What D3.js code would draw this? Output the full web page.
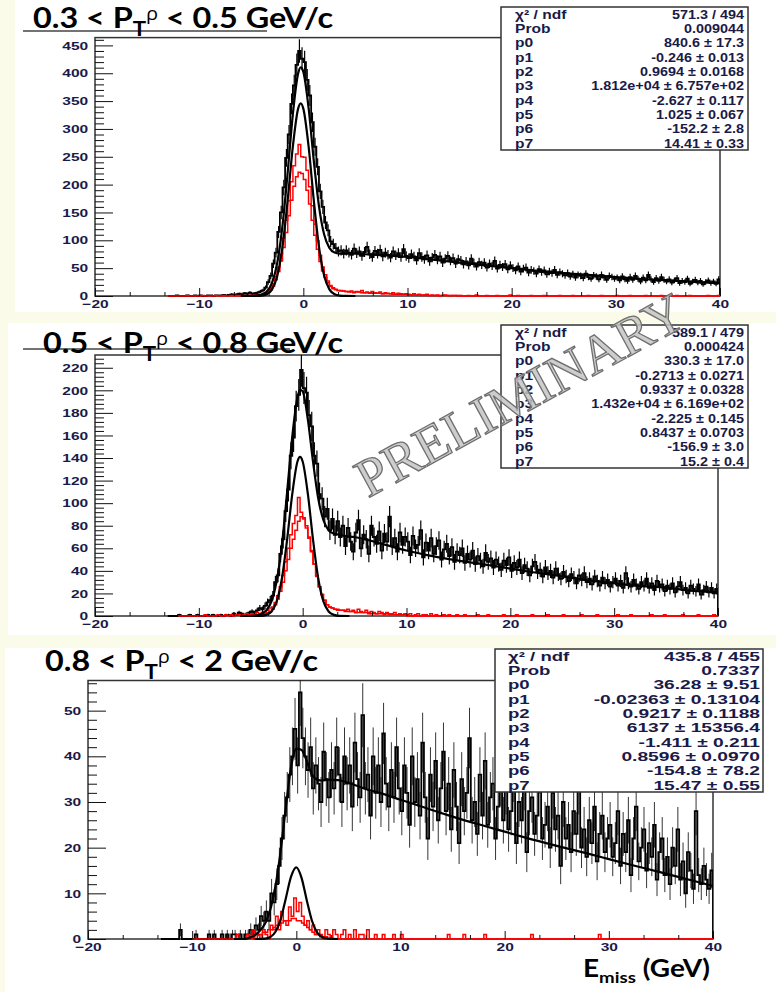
<!DOCTYPE html>
<html><head><meta charset="utf-8">
<script src="https://cdn.jsdelivr.net/npm/d3@7/dist/d3.min.js"></script>
<style>body{margin:0;background:#fbfbea;} svg{display:block}</style>
</head><body><svg id="c" width="776" height="992"></svg>
<script>
// ---------------- DATA ----------------
const binWidth = 0.25;           // GeV per histogram bin
const xDomain = [-20, 40];
const xTickValues = [-20, -10, 0, 10, 20, 30, 40];
const xAxisTitle = "E";
const xAxisTitleSub = "miss";
const xAxisTitleUnit = " (GeV)";

const p1Title = ["0.3 < P", "T", "ρ", " < 0.5 GeV/c"];
const p2Title = ["0.5 < P", "T", "ρ", " < 0.8 GeV/c"];
const p3Title = ["0.8 < P", "T", "ρ", " < 2 GeV/c"];

const p1YTicks = [0, 50, 100, 150, 200, 250, 300, 350, 400, 450];
const p2YTicks = [0, 20, 40, 60, 80, 100, 120, 140, 160, 180, 200, 220];
const p3YTicks = [0, 10, 20, 30, 40, 50];

const statLabels = ["χ² / ndf", "Prob", "p0", "p1", "p2", "p3", "p4", "p5", "p6", "p7"];
const p1Stats = ["571.3 / 494", "0.009044", "840.6 ± 17.3", "-0.246 ± 0.013", "0.9694 ± 0.0168", "1.812e+04 ± 6.757e+02", "-2.627 ± 0.117", "1.025 ± 0.067", "-152.2 ± 2.8", "14.41 ± 0.33"];
const p2Stats = ["589.1 / 479", "0.000424", "330.3 ± 17.0", "-0.2713 ± 0.0271", "0.9337 ± 0.0328", "1.432e+04 ± 6.169e+02", "-2.225 ± 0.145", "0.8437 ± 0.0703", "-156.9 ± 3.0", "15.2 ± 0.4"];
const p3Stats = ["435.8 / 455", "0.7337", "36.28 ± 9.51", "-0.02363 ± 0.13104", "0.9217 ± 0.1188", "6137 ± 15356.4", "-1.411 ± 0.211", "0.8596 ± 0.0970", "-154.8 ± 78.2", "15.47 ± 0.55"];

// ---- panel 1 histograms (bins of 0.25 GeV) ----
const p1BlackStart = -13;
const p1Black = [
0,0,0,1,0,0,0,1,0,0,1,0,1,0,0,1,1,0,1,1,
1,2,1,2,3,2,3,4,3,5,4,6,
4,5,6,8,10,15,25,36,
58,78,115,150, 195,248,290,345, 378,415,440,426, 420,388,360,312, 268,232,188,160, 132,118,98,93, 86,80,82,76,
82,78,74,85,77,80,72,79,88,75,70,81,76,83,71,78,74,69,80,73,77,70,84,72,
68,75,71,64,77,70,66,73,62,69,74,65,71,60,67,72,63,68,58,66,
64,57,62,55,67,59,53,61,56,60,51,58,54,63,49,56,52,57,48,55,
50,46,53,44,49,51,42,47,45,40,48,43,46,39,44,41,47,38,43,40,
37,41,35,39,33,38,36,32,40,34,31,37,35,30,38,33,29,36,34,31,
33,28,35,30,27,34,29,36,31,26,33,28,38,30,25,32,27,34,29,26,
30,24,28,32,23,27,25,31,22,26,29,24,27,21,25,28,23,26,22,30];
const p1RedAStart = -13;
const p1RedA = [
0,0,0,0,0,0,0,1,0,0,0,0,0,1,0,0,0,0,1,0,0,1,0,0,1,0,1,0,1,1,0,1,
1,1,2,2,3,5,8,14,
22,35,52,75, 104,136,171,205, 234,255,272,250, 249,226,196,162, 129,99,73,52, 38,27,19,15, 12,10,10,9,
8,7,9,6,8,7,10,6,7,5,8,6,5,7,4,6,5,4,6,3,5,4,3,4,
3,2,4,2,3,1,2,3,1,2,1,2,0,1,2,1,0,1,1,0,
1,0,0,1,0,0,2,0,0,0,1,0,0,0,1,0,0,0,0,2,
0,0,1,0,0,0,0,1,0,0,0,0,1,0,0,0,0,0,1,0,
0,0,0,1,0,0,0,0,0,1, 0,0,0,0,1,0,0,0,0,0,
1,0,0,0,0,1,0,0,0,0, 0,1,0,0,0,0,0,1,0,0,
0,0,0,1,0,0,0,0,1,0, 0,0,0,0,0,1,0,0,0,1];
const p1RedBStart = -5;
const p1RedB = [
1,1,2,2,3,4,7,11,
18,29,44,63, 87,114,144,172, 197,214,222,220, 209,190,165,136, 109,84,62,45, 33,24,17,13, 11,10,9,9,
8,8,7,7,7,7,6,6,6,6,5,5,5,5,4,4,4,4,3,3,3,3,3,3,
2,2,2,2,2,2,2,1,1,1,1,1,1,1,1,1,1,1,1,1];
const p1TotalFit = [[-6,0],[-5,0.2],[-4.5,0.7],[-4,2.7],[-3.5,8.1],[-3,24],[-2.5,60],[-2,126.5],[-1.5,222.6],[-1,327.5],[-0.5,399.5],[-0.25,410.5],[0,402.5],[0.5,338.5],[1,243.6],[1.5,161.5],[2,110.3],[2.5,86.4],[3,78.1],[3.5,76.2],[4,76],[5,76],[6,75],[8,73],[10,70],[12,66],[15,60],[18,54],[20,50],[22,46],[25,41],[28,37],[30,34],[32,31],[35,28],[38,25],[40,23]];
const p1GausFit = [[-5,0],[-4,0.7],[-3.5,3.1],[-3,11.9],[-2.5,36.3],[-2,88.5],[-1.5,172.6],[-1,269.5],[-0.5,336.5],[-0.25,346],[0,336.5],[0.5,269.5],[1,172.6],[1.5,88.5],[2,36.3],[2.5,11.9],[3,3.1],[3.5,0.7],[4,0.1],[5,0]];

// ---- panel 2 histograms ----
const p2BlackStart = -13;
const p2Black = [
0,0,0,0,1,0,0,0,1,0,0,1,0,0,0,1,0,1,0,0,1,0,1,1,0,2,1,3,2,1,2,3,
4,3,5,7,6,9,12,14,
18,30,36,55, 68,93,112,142, 158,186,196,218, 202,198,178,168, 142,135,108,104, 88,95,76,86, 72,84,70,80,
62,78,66,57,74,85,60,72,68,55,80,70,64,75,58,73,66,88,62,69,57,74,63,70,
66,54,71,60,63,76,52,65,58,69,55,62,67,50,59,64,53,61,48,57,
54,60,47,55,50,58,46,53,49,44,56,48,51,43,50,46,41,49,45,52,
40,47,43,50,38,45,42,36,44,48,39,41,35,43,38,40,34,42,37,33,
39,35,31,37,34,29,36,32,38,30,33,28,35,31,27,34,29,32,26,30,
33,27,31,25,38,29,26,32,28,24,30,27,33,25,29,23,31,26,28,22,
27,24,29,21,26,30,23,25,20,27,24,22,28,19,23,26,21,25,20,24];
const p2RedAStart = -12;
const p2RedA = [
0,0,0,0,0,0,0,0,0,0,1,0,0,0,0,1,0,0,1,0,1,0,1,1,0,1,2,1,
2,1,3,2,3,4,5,7,
8,12,18,26, 36,48,60,72, 82,89,105,92, 87,80,69,57, 46,35,26,19, 14,10,8,7, 6,6,5,5,
5,6,4,5,3,6,4,3,5,2,4,3,2,4,3,1,3,2,2,3,1,2,1,2,
1,2,0,1,2,0,1,1,0,2,0,1,0,0,1,0,1,0,0,1,
0,0,1,0,0,0,0,1,0,0, 0,1,0,0,0,0,0,1,0,0,
0,0,1,0,0,0,0,0,1,0, 0,0,0,0,1,0,0,0,0,0,
1,0,0,0,0,0,0,1,0,0, 0,0,0,1,0,0,0,0,0,0,
0,1,0,0,0,0,1,0,0,0, 0,0,0,0,1,0,0,0,0,1,
0,0,0,0,0,0,1,0,0,0, 0,0,1,0,0,0,0,0,1,0];
const p2RedBStart = -5;
const p2RedB = [
1,1,1,1,1,2,3,4,
6,10,15,22, 30,40,50,60, 68,76,84,88, 86,78,70,58, 46,36,26,19, 14,10,8,7, 6,5,5,5,
4,4,4,4,3,3,3,3,3,3,2,2,2,2,2,2,2,1,1,1,1,1,1,1];
const p2TotalFit = [[-6,0],[-5,0],[-4.5,0.3],[-4,1.7],[-3.5,5],[-3,13],[-2.5,31],[-2,63],[-1.5,109.5],[-1,159],[-0.5,194],[-0.25,200.5],[0,199],[0.5,174],[1,136.5],[1.5,104],[2,85],[2.5,76],[3,73],[3.5,72.2],[4,71],[5,70],[6,68],[8,63],[10,58],[12,54],[15,49],[18,45],[20,42],[22,39],[25,35],[28,31],[30,29],[32,27],[35,25],[38,22],[40,21]];
const p2GausFit = [[-5,0],[-4,0.19],[-3.5,0.97],[-3,4.0],[-2.5,12.9],[-2,33.2],[-1.5,67.5],[-1,108.2],[-0.5,136.9],[-0.25,141],[0,136.9],[0.5,108.2],[1,67.5],[1.5,33.2],[2,12.9],[2.5,4.0],[3,0.97],[3.5,0.19],[4.5,0]];

// ---- panel 3 histograms ----
const p3BlackStart = -13;
const p3Black = [
0,0,0,0,0,0,0,2,0,0,0,0,0,1,0,0,0,0,1,0,1,0,0,1,0,1,0,1,1,0,1,0,
1,1,2,1,3,2,5,4,
6,4,10,8, 12,16,22,27, 31,36,40,46, 38,54,44,40, 37,42,33,38, 34,30,41,35, 31,37,33,42,
36,30,40,34,38,29,43,35,31,49,33,36,27,40,32,38,30,45,34,29,37,31,42,33,
28,38,32,25,40,30,35,27,43,31,22,36,29,39,26,33,41,28,34,24,
37,29,21,35,28,32,44,26,30,23,36,27,39,25,31,34,22,29,35,26,
33,24,28,36,21,30,26,34,19,28,31,23,27,38,22,25,29,20,32,24,
27,16,30,22,25,19,28,23,33,20,24,18,26,21,29,17,23,27,19,22,
25,18,21,28,16,23,19,26,14,22,29,17,20,24,15,21,18,25,13,19,
22,14,18,12,20,16,24,13,17,10,19,15,11,28,14,12,16,13,11,15];
const p3RedAStart = -10;
const p3RedA = [
0,0,0,0,0,0,0,0,0,0,0,0,0,0,0,0,0,1,0,0,
0,1,0,2,0,1,0,2,
1,0,3,2, 5,2,6,4, 3,7,5,9, 6,8,5,3, 4,2,3,1, 2,1,0,2, 1,0,2,1,
0,1,2,0,1,0,2,0,1,1,0,2,0,0,1,0,0,1,0,0,0,1,0,0,
1,0,0,0,0,0,0,0,0,0,0,0,0,0,0,0,0,0,1,0,
0,0,0,0,1,0,0,0,0,0,0,0,1,0,0,0,0,0,0,0,
0,0,0,0,0,0,0,0,0,0,1,0,0,0,0,0,0,0,0,0,
0,0,0,0,0,0,0,0,0,0,0,0,0,0,0,0,1,0,0,0];
const p3RedBStart = -5;
const p3RedB = [
0,0,0.5,0.5,1,1,1,1.5,
1.5,2,2,2.5, 3,3,3.5,4, 4,4,4.5,4.5, 4,4,3.5,3, 2.5,2,1.5,1, 1,0.5,0.5,0.5];
const p3TotalFit = [[-6,0],[-5,0],[-4.5,0.3],[-4,0.8],[-3.5,1.8],[-3,3.4],[-2.5,6.4],[-2,11.6],[-1.5,19.4],[-1,29],[-0.5,37.7],[0,41.7],[0.5,41.4],[1,39],[1.5,36],[2,34.9],[2.5,34.7],[3,34.9],[4,34.8],[5,34.2],[6,33.4],[7,32.6],[8,32],[10,30.5],[12,29],[15,26.8],[18,24.8],[20,23.5],[22,22.2],[25,20.4],[28,18.7],[30,17.5],[32,16.3],[35,14.6],[38,12.8],[40,11.6]];
const p3GausFit = [[-4,0],[-3,0.09],[-2.5,0.43],[-2,1.58],[-1.5,4.36],[-1,9.0],[-0.5,13.7],[0,15.7],[0.5,13.4],[1,8.5],[1.5,4.0],[2,1.41],[2.5,0.37],[3,0.07],[4,0]];

const watermark = "PRELIMINARY";

// ---------------- DRAWING ----------------
const svg = d3.select("#c");
const TICK_FONT = "'Liberation Sans', Arial, sans-serif";
const TICK_COLOR = "#1a1a48";

// white slide areas
[[15,0,761,312],[8,323,768,312],[5,648,771,344]].forEach(r =>
  svg.append("rect").attr("x", r[0]).attr("y", r[1]).attr("width", r[2]).attr("height", r[3]).attr("fill", "#ffffff"));

const panels = [
  { title: p1Title, titleX: 33, titleY: 28, titleW: 300, titleLine: [23, 267, 31],
    L: {left: 95, right: 720, top: 37.6, bottom: 296}, yMax: 464, yTicks: p1YTicks, yMinor: 10,
    black: [p1Black, p1BlackStart], errW: 1.2, reds: [[p1RedA, p1RedAStart], [p1RedB, p1RedBStart]],
    total: p1TotalFit, gaus: p1GausFit, stats: p1Stats,
    box: {x: 501, y: 7, w: 247, h: 143, labX: 14, valR: 4, first: 11.8, step: 14.3, sxL: 1.3, sxV: 1.2} },
  { title: p2Title, titleX: 43, titleY: 353, titleW: 300, titleLine: [23, 290, 349],
    L: {left: 95, right: 718, top: 355, bottom: 616}, yMax: 231.3, yTicks: p2YTicks, yMinor: 4,
    black: [p2Black, p2BlackStart], errW: 1.2, reds: [[p2RedA, p2RedAStart], [p2RedB, p2RedBStart]],
    total: p2TotalFit, gaus: p2GausFit, stats: p2Stats,
    box: {x: 501, y: 325, w: 247, h: 143, labX: 14, valR: 4, first: 11.8, step: 14.3, sxL: 1.3, sxV: 1.2} },
  { title: p3Title, titleX: 45, titleY: 671, titleW: 273, titleLine: null,
    L: {left: 88, right: 713, top: 680.5, bottom: 939}, yMax: 56.6, yTicks: p3YTicks, yMinor: 2,
    black: [p3Black, p3BlackStart], errW: 0.8, reds: [[p3RedA, p3RedAStart], [p3RedB, p3RedBStart]],
    total: p3TotalFit, gaus: p3GausFit, stats: p3Stats,
    box: {x: 495, y: 649, w: 268, h: 143, labX: 13, valR: 3, first: 11.8, step: 14.3, sxL: 1.55, sxV: 1.6} }
];

function histPath(vals, start, x, y) {
  const p = d3.path();
  p.moveTo(x(start), y(0));
  vals.forEach((v, i) => {
    const a = start + i * binWidth;
    p.lineTo(x(a), y(v));
    p.lineTo(x(a + binWidth), y(v));
  });
  const last = start + vals.length * binWidth;
  p.lineTo(x(last), y(0));
  if (last < xDomain[1]) p.lineTo(x(xDomain[1]), y(0));
  return p.toString();
}
// statistical (Poisson) error bars of the counts
function errPath(vals, start, x, y) {
  const p = d3.path();
  vals.forEach((v, i) => {
    if (v <= 0) return;
    const c = x(start + (i + 0.5) * binWidth);
    const e = Math.sqrt(v);
    p.moveTo(c, y(Math.max(0, v - e)));
    p.lineTo(c, y(v + e));
  });
  return p.toString();
}

panels.forEach((P, idx) => {
  const L = P.L;
  const g = svg.append("g");
  const x = d3.scaleLinear().domain(xDomain).range([L.left, L.right]);
  const y = d3.scaleLinear().domain([0, P.yMax]).range([L.bottom, L.top]);

  if (P.titleLine) g.append("line").attr("x1", P.titleLine[0]).attr("x2", P.titleLine[1])
    .attr("y1", P.titleLine[2]).attr("y2", P.titleLine[2]).attr("stroke", "#444").attr("stroke-width", 1.3);

  g.append("rect").attr("x", L.left).attr("y", L.top).attr("width", L.right - L.left).attr("height", L.bottom - L.top)
    .attr("fill", "none").attr("stroke", "#333").attr("stroke-width", 1.5);

  const clipId = "clip" + idx;
  g.append("clipPath").attr("id", clipId).append("rect")
    .attr("x", L.left).attr("y", L.top).attr("width", L.right - L.left).attr("height", L.bottom - L.top + 1);
  const plot = g.append("g").attr("clip-path", `url(#${clipId})`);

  plot.append("path").attr("d", errPath(P.black[0], P.black[1], x, y))
    .attr("fill", "none").attr("stroke", "#000").attr("stroke-width", P.errW);
  plot.append("path").attr("d", histPath(P.black[0], P.black[1], x, y))
    .attr("fill", "none").attr("stroke", "#000").attr("stroke-width", 1.8).attr("stroke-linejoin", "miter");
  P.reds.forEach(r => plot.append("path").attr("d", histPath(r[0], r[1], x, y))
    .attr("fill", "none").attr("stroke", "#ff0000").attr("stroke-width", 1.5));

  const line = d3.line().x(d => x(d[0])).y(d => y(d[1])).curve(d3.curveMonotoneX);
  plot.append("path").attr("d", line(P.gaus)).attr("fill", "none").attr("stroke", "#000").attr("stroke-width", 2.2);
  plot.append("path").attr("d", line(P.total)).attr("fill", "none").attr("stroke", "#000").attr("stroke-width", 2.2);

  const majorY = P.yTicks[1] - P.yTicks[0];
  const minorYVals = d3.range(0, P.yMax + 1e-6, P.yMinor).filter(v => Math.abs(v / majorY - Math.round(v / majorY)) > 1e-6);
  const yMinorAxis = d3.axisLeft(y).tickValues(minorYVals).tickSizeInner(-9).tickSizeOuter(0).tickFormat("");
  g.append("g").attr("transform", `translate(${L.left},0)`).call(yMinorAxis).call(s => s.select(".domain").remove());
  const yAxis = d3.axisLeft(y).tickValues(P.yTicks).tickSizeInner(-18).tickSizeOuter(0).tickPadding(5).tickFormat(d3.format("d"));
  const ya = g.append("g").attr("transform", `translate(${L.left},0)`).call(yAxis);
  ya.select(".domain").remove();

  const minorXVals = d3.range(xDomain[0], xDomain[1] + 1e-6, 10 / 3).filter(v => Math.abs(v / 10 - Math.round(v / 10)) > 1e-6);
  const xMinorAxis = d3.axisBottom(x).tickValues(minorXVals).tickSizeInner(-4).tickSizeOuter(0).tickFormat("");
  g.append("g").attr("transform", `translate(0,${L.bottom})`).call(xMinorAxis).call(s => s.select(".domain").remove());
  const xAxis = d3.axisBottom(x).tickValues(xTickValues).tickSizeInner(-8).tickSizeOuter(0).tickPadding(4).tickFormat(d3.format("d"));
  const xa = g.append("g").attr("transform", `translate(0,${L.bottom})`).call(xAxis);
  xa.select(".domain").remove();

  [ya, xa].forEach(a => {
    a.selectAll("line").attr("stroke", "#111").attr("stroke-width", 1);
    a.selectAll("text").attr("font-family", TICK_FONT).attr("font-weight", "bold").attr("font-size", 11.5)
      .attr("fill", TICK_COLOR).attr("transform", "scale(1.35,1)");
  });
  g.selectAll("g.tick line").attr("stroke", "#111");

  const t = g.append("text").attr("x", P.titleX).attr("y", P.titleY)
    .attr("font-family", "Lato, 'Open Sans', 'Noto Sans', sans-serif").attr("font-weight", "bold")
    .attr("font-size", 29).attr("fill", "#000")
    .attr("textLength", P.titleW).attr("lengthAdjust", "spacingAndGlyphs");
  t.append("tspan").text(P.title[0]);
  t.append("tspan").attr("font-size", 20).attr("dy", 8).text(P.title[1]);
  t.append("tspan").attr("font-size", 18).attr("dy", -16).attr("font-family", "'Open Sans', sans-serif").attr("font-weight", "normal").text(P.title[2]);
  t.append("tspan").attr("dy", 8).text(P.title[3]);

  const B = P.box;
  const sb = g.append("g");
  sb.append("rect").attr("x", B.x).attr("y", B.y).attr("width", B.w).attr("height", B.h)
    .attr("fill", "#fff").attr("stroke", "#333").attr("stroke-width", 1.5);
  statLabels.forEach((lab, i) => {
    const by = B.y + B.first + i * B.step;
    sb.append("text").attr("transform", `translate(${B.x + B.labX},${by}) scale(${B.sxL},1)`)
      .attr("font-family", TICK_FONT).attr("font-weight", "bold").attr("font-size", 12).attr("fill", TICK_COLOR)
      .text(lab);
    const vt = sb.append("text").attr("text-anchor", "end")
      .attr("font-family", TICK_FONT).attr("font-weight", "bold").attr("font-size", 12).attr("fill", TICK_COLOR)
      .text(P.stats[i]);
    const w = vt.node().getComputedTextLength();
    const maxW = B.w - B.valR - 70;
    const sx = Math.min(B.sxV, maxW / w);
    vt.attr("transform", `translate(${B.x + B.w - B.valR},${by}) scale(${sx},1)`);
  });
});

const xt = svg.append("text").attr("x", 583).attr("y", 977)
  .attr("font-family", "Lato, 'Open Sans', sans-serif").attr("font-weight", "bold").attr("font-size", 24).attr("fill", "#000")
  .attr("textLength", 127).attr("lengthAdjust", "spacingAndGlyphs");
xt.append("tspan").text(xAxisTitle);
xt.append("tspan").attr("font-size", 16).attr("dy", 6).text(xAxisTitleSub);
xt.append("tspan").attr("dy", -6).text(xAxisTitleUnit);

svg.append("text").attr("transform", "translate(523,400) rotate(-28.5)")
  .attr("text-anchor", "middle").attr("dominant-baseline", "middle")
  .attr("font-family", "'Liberation Serif', 'DejaVu Serif', serif").attr("font-size", 54)
  .attr("fill", "#c4c4c4").attr("fill-opacity", 0.85).attr("stroke", "#6f6f6f").attr("stroke-width", 1.3)
  .text(watermark);
</script>
</body></html>
